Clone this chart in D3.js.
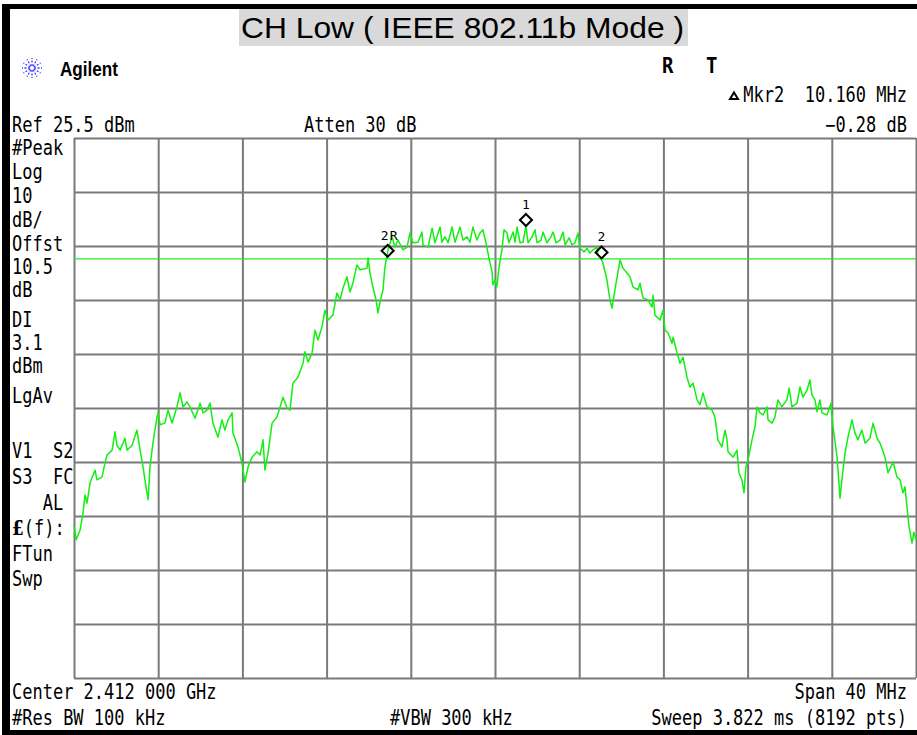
<!DOCTYPE html>
<html><head><meta charset="utf-8">
<script src="https://cdn.jsdelivr.net/npm/d3@7"></script>
<style>
html,body{margin:0;padding:0;background:#fff;}
svg{display:block;}
text{white-space:pre;}
</style></head>
<body>
<svg id="c" width="917" height="735"></svg>
<script>
// ---------------- DATA ----------------
const titleText = "CH Low ( IEEE 802.11b Mode )";
const refLevel = 25.5;          // dBm
const dbPerDiv = 10;
const spanMHz = 40;
const displayLine = 3.1;        // DI, dBm
const gridFreqs = [-20,-16,-12,-8,-4,0,4,8,12,16,20];                 // MHz offset from center
const gridLevels = [25.5,15.5,5.5,-4.5,-14.5,-24.5,-34.5,-44.5,-54.5,-64.5,-74.5];
const leftLabels = ["#Peak","Log","10","dB/","Offst","10.5","dB","DI","3.1","dBm","LgAv","V1  S2","S3  FC","   AL","(f):","FTun","Swp"];
const leftBaselines = [155,179,203,227,251,274,297,327,350,373,403,458,484,510,535,561,586];
const markerNames = ["1","2R","2"];
const markerFreqs = [1.47,-5.10,5.06];
const markerLevels = [9.2,3.5,3.2];

const freqMHz = [-20.00,-19.90,-19.71,-19.57,-19.48,-19.38,-19.24,-19.00,-18.91,-18.67,
-18.53,-18.43,-18.19,-18.05,-17.96,-17.81,-17.58,-17.48,-17.24,-17.01,
-16.86,-16.72,-16.58,-16.48,-16.39,-16.25,-16.06,-16.01,-15.91,-15.68,
-15.53,-15.34,-15.11,-14.96,-14.82,-14.63,-14.49,-14.25,-14.01,-13.87,
-13.68,-13.54,-13.40,-13.16,-12.97,-12.83,-12.68,-12.49,-12.45,-12.21,
-12.02,-11.88,-11.73,-11.54,-11.31,-11.16,-11.02,-10.93,-10.78,-10.59,
-10.36,-10.07,-9.88,-9.74,-9.60,-9.36,-9.12,-9.03,-8.88,-8.69,
-8.55,-8.41,-8.22,-8.08,-7.93,-7.70,-7.51,-7.36,-7.22,-7.03,
-6.89,-6.75,-6.56,-6.41,-6.08,-6.03,-5.94,-5.80,-5.65,-5.56,
-5.46,-5.32,-5.23,-5.08,-4.89,-4.75,-4.61,-4.37,-4.18,-4.04,
-3.90,-3.66,-3.47,-3.42,-3.18,-2.99,-2.85,-2.61,-2.52,-2.38,
-2.23,-2.04,-1.90,-1.66,-1.52,-1.33,-1.19,-1.05,-0.86,-0.71,
-0.57,-0.43,-0.29,-0.14,-0.10,0.00,0.09,0.19,0.33,0.43,
0.57,0.66,0.86,0.95,1.05,1.19,1.33,1.47,1.57,1.76,
1.90,2.00,2.19,2.28,2.47,2.66,2.76,2.90,3.09,3.23,
3.33,3.52,3.66,3.80,3.94,4.04,4.23,4.37,4.51,4.66,
4.85,4.89,5.04,5.13,5.32,5.46,5.56,5.70,5.94,6.08,
6.27,6.41,6.56,6.79,6.89,7.03,7.27,7.46,7.51,7.60,
7.84,7.98,8.08,8.22,8.41,8.46,8.65,8.79,8.93,9.12,
9.26,9.41,9.60,9.74,9.88,10.07,10.31,10.45,10.59,10.78,
10.93,11.02,11.07,11.31,11.50,11.59,11.73,11.83,11.92,12.02,
12.21,12.35,12.45,12.59,12.73,12.92,12.97,13.16,13.30,13.44,
13.63,13.87,13.97,14.11,14.35,14.49,14.63,14.82,14.96,15.06,
15.20,15.30,15.44,15.53,15.77,15.96,16.06,16.25,16.39,16.48,
16.63,16.77,16.96,17.10,17.24,17.43,17.58,17.81,17.96,18.15,
18.29,18.53,18.67,18.91,19.10,19.24,19.38,19.48,19.57,19.67,
19.81,19.90,20.00];

const levelDbm = [-46.2,-48.9,-47.1,-43.9,-40.6,-42.1,-38.4,-36.0,-37.8,-37.3,
-34.7,-33.2,-32.3,-28.9,-31.4,-32.3,-30.1,-32.3,-31.4,-28.6,
-32.3,-35.4,-39.1,-41.5,-35.4,-31.0,-26.2,-25.4,-27.6,-27.3,
-24.9,-27.3,-24.3,-21.7,-24.3,-23.4,-24.3,-26.4,-23.6,-25.4,
-24.9,-23.6,-27.3,-29.9,-26.7,-28.6,-26.7,-25.4,-29.1,-31.7,
-34.7,-38.2,-35.4,-33.6,-32.6,-33.2,-30.4,-36.0,-32.8,-27.3,
-26.2,-22.5,-24.5,-24.9,-19.9,-18.8,-16.2,-14.1,-16.0,-14.3,
-10.1,-11.9,-9.5,-6.4,-8.2,-7.3,-3.2,-4.5,-2.3,-0.2,
-3.0,-1.4,2.0,1.1,1.4,3.3,0.5,-2.1,-4.5,-6.9,
-4.9,-2.6,1.6,4.8,7.2,5.3,6.6,4.8,5.3,7.9,
6.1,6.2,8.1,5.7,5.3,8.8,6.1,9.0,6.2,7.2,
6.1,9.0,6.2,9.0,6.6,7.2,6.2,9.0,6.6,7.9,
8.5,6.1,3.3,0.7,-1.7,-0.8,-2.1,1.6,4.8,8.5,
7.9,6.1,8.1,6.2,9.0,6.1,6.2,9.2,6.1,7.2,
8.5,6.1,6.6,8.1,6.1,7.2,8.1,6.1,6.6,8.1,
5.7,7.0,5.7,6.1,7.9,5.1,4.4,5.1,4.2,4.8,
5.3,3.8,3.2,2.3,-0.8,-4.5,-6.0,-2.6,2.9,1.4,
0.5,-0.2,-2.1,-2.6,-1.4,-4.1,-4.5,-5.8,-3.6,-7.3,
-8.2,-6.4,-10.1,-10.6,-12.5,-11.4,-14.3,-16.2,-15.1,-18.8,
-20.6,-19.9,-23.0,-23.9,-21.7,-24.3,-24.9,-26.2,-30.4,-31.7,
-28.6,-30.4,-32.6,-33.6,-32.3,-36.5,-37.8,-40.2,-35.4,-34.1,
-30.4,-28.0,-24.3,-25.4,-25.8,-24.3,-26.7,-27.3,-26.2,-23.0,
-24.3,-23.0,-20.8,-24.3,-23.6,-20.6,-22.5,-21.2,-19.3,-22.1,
-23.0,-25.2,-23.0,-25.4,-25.8,-23.6,-28.0,-33.6,-41.2,-37.8,
-32.8,-29.9,-26.7,-29.1,-30.4,-28.6,-31.0,-30.1,-27.3,-30.1,
-31.0,-33.6,-36.5,-34.5,-37.3,-37.8,-40.2,-39.1,-42.8,-46.5,
-49.5,-47.5,-48.9];

// ---------------- DRAW ----------------
const svg = d3.select("#c");
const L = 74, R = 916, T = 138, B = 678;
const x = d3.scaleLinear().domain([-spanMHz/2, spanMHz/2]).range([L, R]);
const y = d3.scaleLinear().domain([refLevel - 10*dbPerDiv, refLevel]).range([B, T]);
const MONO = "'DejaVu Sans Mono', monospace";

function txt(px, py, s, o = {}) {
  const t = svg.append("text")
    .attr("transform", `translate(${px},${py}) scale(1,${o.sy || 1.2})`)
    .attr("font-family", o.family || MONO)
    .attr("font-size", o.size || 17)
    .attr("font-weight", o.weight || "normal")
    .attr("text-anchor", o.anchor || "start")
    .attr("fill", o.fill || "#000")
    .text(s);
  return t;
}

// frame (black bars)
svg.append("rect").attr("x", 2).attr("y", 4).attr("width", 915).attr("height", 5).attr("fill", "#000");
svg.append("rect").attr("x", 2).attr("y", 4).attr("width", 8).attr("height", 731).attr("fill", "#000");
svg.append("rect").attr("x", 2).attr("y", 730).attr("width", 915).attr("height", 5).attr("fill", "#000");

// title
svg.append("rect").attr("x", 239).attr("y", 9).attr("width", 449).attr("height", 37).attr("fill", "#d9d9d9");
svg.append("text").attr("x", 241).attr("y", 38)
  .attr("font-family", "'Liberation Sans', Arial, sans-serif").attr("font-size", 30)
  .attr("textLength", 443).attr("lengthAdjust", "spacingAndGlyphs")
  .text(titleText);

// Agilent logo
const lg = svg.append("g").attr("transform", "translate(32,68)");
d3.range(0, 360, 30).forEach(a => {
  const r = a * Math.PI / 180;
  lg.append("line").attr("x1", 2*Math.cos(r)).attr("y1", 2*Math.sin(r))
    .attr("x2", 10*Math.cos(r)).attr("y2", 10*Math.sin(r))
    .attr("stroke", "#3a3aff").attr("stroke-width", 1.3).attr("stroke-dasharray", "2,1.5");
});
svg.append("text").attr("x", 60).attr("y", 76)
  .attr("font-family", "'Liberation Sans', Arial, sans-serif").attr("font-weight", "bold")
  .attr("font-size", 18).attr("textLength", 58).attr("lengthAdjust", "spacingAndGlyphs")
  .attr("transform", "translate(0,76) scale(1,1.08) translate(0,-76)")
  .text("Agilent");

// R  T
txt(662, 73, "R", {weight: "bold", size: 19, sy: 1.15});
txt(706, 73, "T", {weight: "bold", size: 19, sy: 1.15});

// marker readout
svg.append("path").attr("d", "M734,92.5 L738,99 L730,99 Z").attr("fill", "#fff").attr("stroke", "#000").attr("stroke-width", 2);
txt(907, 102, "Mkr2  10.160 MHz", {anchor: "end"});
txt(907, 132, "\u22120.28 dB", {anchor: "end"});
txt(12, 132, "Ref 25.5 dBm");
txt(304, 132, "Atten 30 dB");

// left labels
leftLabels.forEach((s, i) => {
  if (s === "(f):") {
    const t = txt(12, leftBaselines[i], "");
    t.append("tspan").attr("font-weight", "bold").attr("font-family", "'DejaVu Serif', serif").text("\u00a3");
    t.append("tspan").text("(f):");
  } else {
    txt(12, leftBaselines[i], s);
  }
});

// bottom labels
txt(12, 699, "Center 2.412 000 GHz");
txt(907, 699, "Span 40 MHz", {anchor: "end"});
txt(12, 725, "#Res BW 100 kHz");
txt(390, 725, "#VBW 300 kHz");
txt(907, 725, "Sweep 3.822 ms (8192 pts)", {anchor: "end"});

// grid via axes
const gx = svg.append("g").attr("transform", `translate(0,${B})`)
  .call(d3.axisBottom(x).tickValues(gridFreqs).tickSize(-(B - T)).tickFormat(""));
const gy = svg.append("g").attr("transform", `translate(${L},0)`)
  .call(d3.axisLeft(y).tickValues(gridLevels).tickSize(-(R - L)).tickFormat(""));
[gx, gy].forEach(g => {
  g.select(".domain").remove();
  g.selectAll(".tick line").attr("stroke", "#7a7a7a").attr("stroke-width", 2);
});

// display line
svg.append("line").attr("x1", L).attr("x2", R).attr("y1", y(displayLine)).attr("y2", y(displayLine))
  .attr("stroke", "#22ee22").attr("stroke-width", 1.2);

// trace
const n = Math.min(freqMHz.length, levelDbm.length);
const pts = d3.range(n).map(i => ({f: freqMHz[i], l: levelDbm[i]}));
svg.append("path").datum(pts)
  .attr("d", d3.line().x(d => x(d.f)).y(d => y(d.l)))
  .attr("fill", "none").attr("stroke", "#11f011").attr("stroke-width", 1.5).attr("stroke-linejoin", "round");

// markers
markerNames.forEach((m, i) => {
  const cx = x(markerFreqs[i]), cy = y(markerLevels[i]) - 6;
  svg.append("path").attr("d", `M${cx},${cy-6} L${cx+6},${cy} L${cx},${cy+6} L${cx-6},${cy} Z`)
    .attr("fill", "none").attr("stroke", "#000").attr("stroke-width", 2);
  svg.append("text").attr("x", cx + (m === "2R" ? 2 : 0)).attr("y", cy - 11)
    .attr("text-anchor", "middle").attr("font-family", MONO).attr("font-size", 13)
    .attr("fill", "#000")
    .attr("letter-spacing", m === "2R" ? 1 : 0)
    .text(m);
});
</script>
</body></html>
